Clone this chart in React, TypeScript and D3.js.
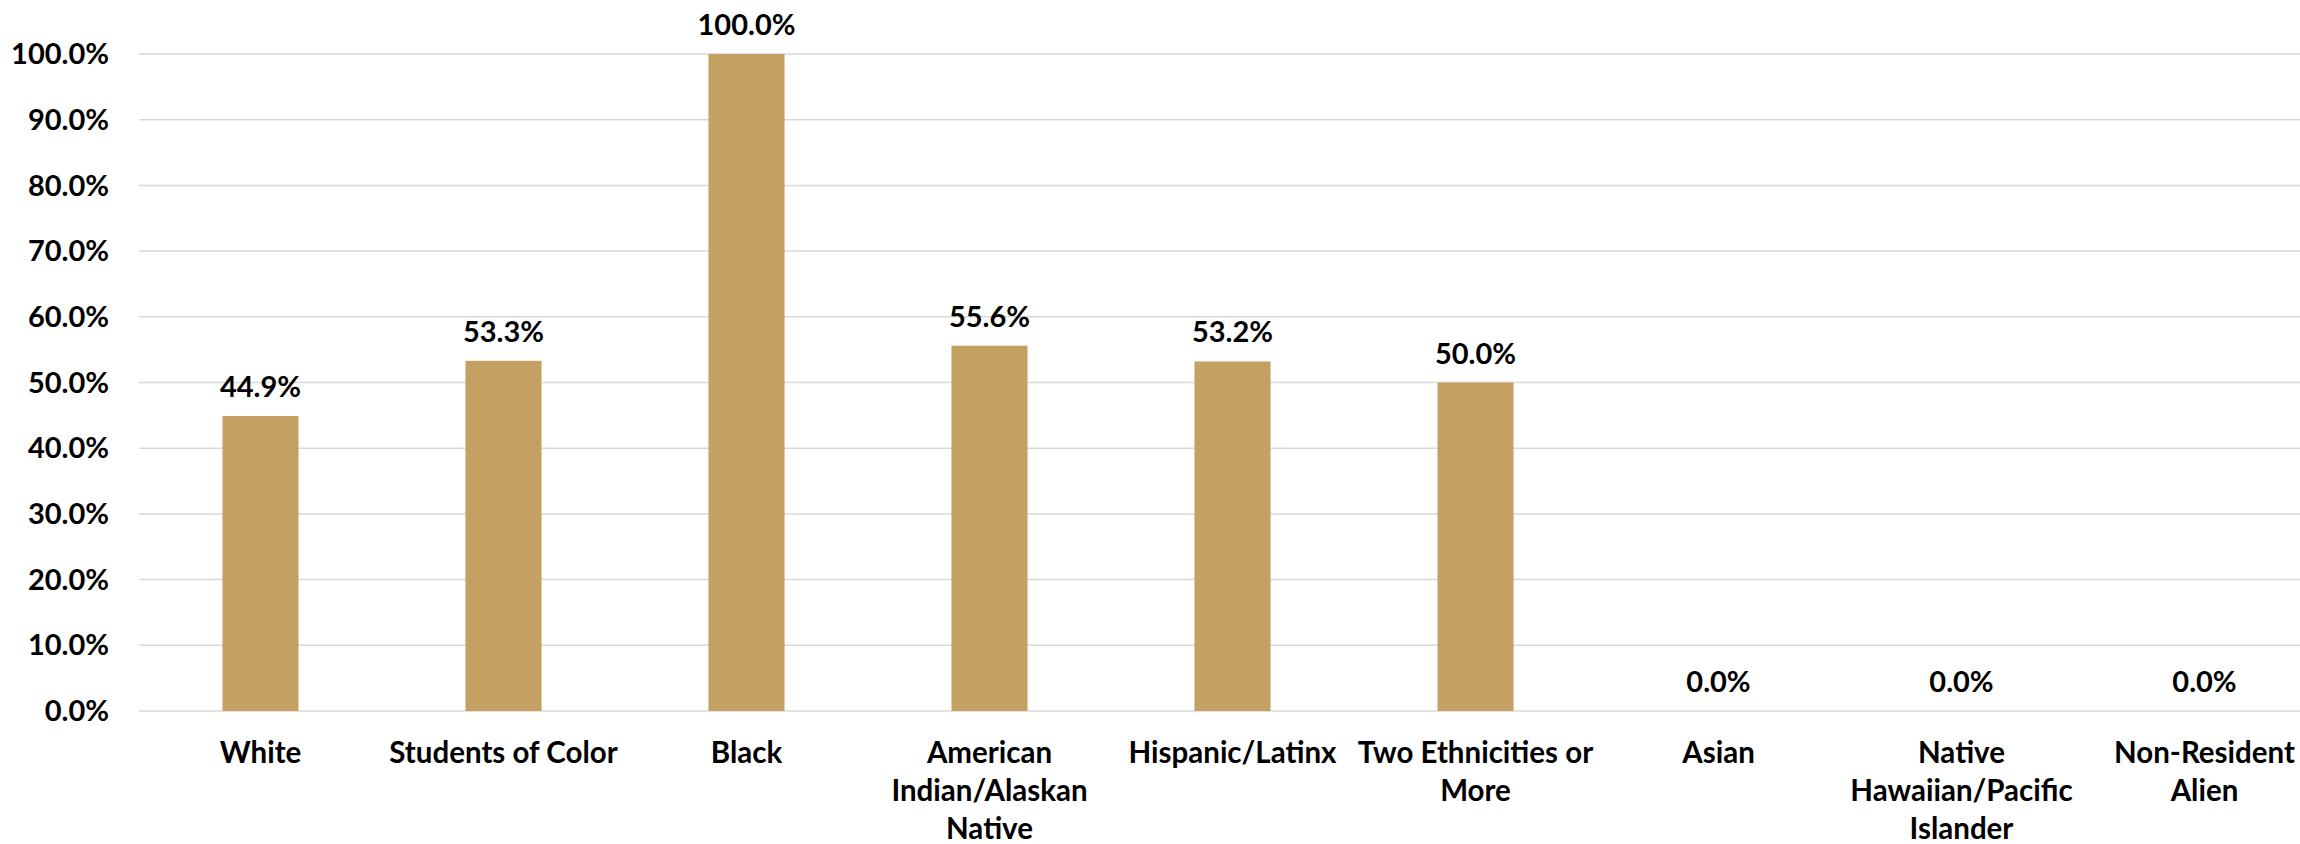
import React from "react";
import * as d3 from "d3";

const categories: string[][] = [
  ["White"],
  ["Students of Color"],
  ["Black"],
  ["American", "Indian/Alaskan", "Native"],
  ["Hispanic/Latinx"],
  ["Two Ethnicities or", "More"],
  ["Asian"],
  ["Native", "Hawaiian/Pacific", "Islander"],
  ["Non-Resident", "Alien"],
];
const values: number[] = [0.449, 0.533, 1.0, 0.556, 0.532, 0.5, 0, 0, 0];
const yTicks: number[] = [0, 0.1, 0.2, 0.3, 0.4, 0.5, 0.6, 0.7, 0.8, 0.9, 1.0];

const W = 2300;
const H = 844;
const FONT = "Lato, 'Open Sans', sans-serif";
const BAR = "#C4A063";

export default function App() {
  const x = d3
    .scaleBand<number>()
    .domain(d3.range(categories.length))
    .range([139, 2326])
    .paddingInner(0.687)
    .paddingOuter(0.3435);
  const y = d3.scaleLinear().domain([0, 1]).range([711, 54]);
  const fmt = d3.format(".1%");

  return (
    <svg
      width={W}
      height={H}
      style={{ position: "absolute", left: 0, top: 0, background: "#fff", overflow: "hidden" }}
      fontFamily={FONT}
      fontWeight="bold"
    >
      <rect x={0} y={0} width={W} height={H} fill="#fff" />
      {yTicks.map((t) => (
        <g key={t}>
          <line x1={139} x2={2326} y1={y(t)} y2={y(t)} stroke="#d9d9d9" strokeWidth={1.5} />
          <text x={109} y={y(t)} dy="0.35em" textAnchor="end" fontSize={29} fill="#000">
            {fmt(t)}
          </text>
        </g>
      ))}
      {values.map((v, i) => {
        const bx = x(i)!;
        const bw = x.bandwidth();
        return (
          <g key={i}>
            {v > 0 && (
              <rect x={bx} y={y(v)} width={bw} height={y(0) - y(v)} fill={BAR} />
            )}
            <text
              x={bx + bw / 2}
              y={y(v) - 19}
              textAnchor="middle"
              fontSize={29}
              fill="#000"
            >
              {fmt(v)}
            </text>
            <text x={bx + bw / 2} y={763} textAnchor="middle" fontSize={29.5} fill="#000">
              {categories[i].map((line, j) => (
                <tspan key={j} x={bx + bw / 2} dy={j === 0 ? 0 : 38}>
                  {line}
                </tspan>
              ))}
            </text>
          </g>
        );
      })}
    </svg>
  );
}
